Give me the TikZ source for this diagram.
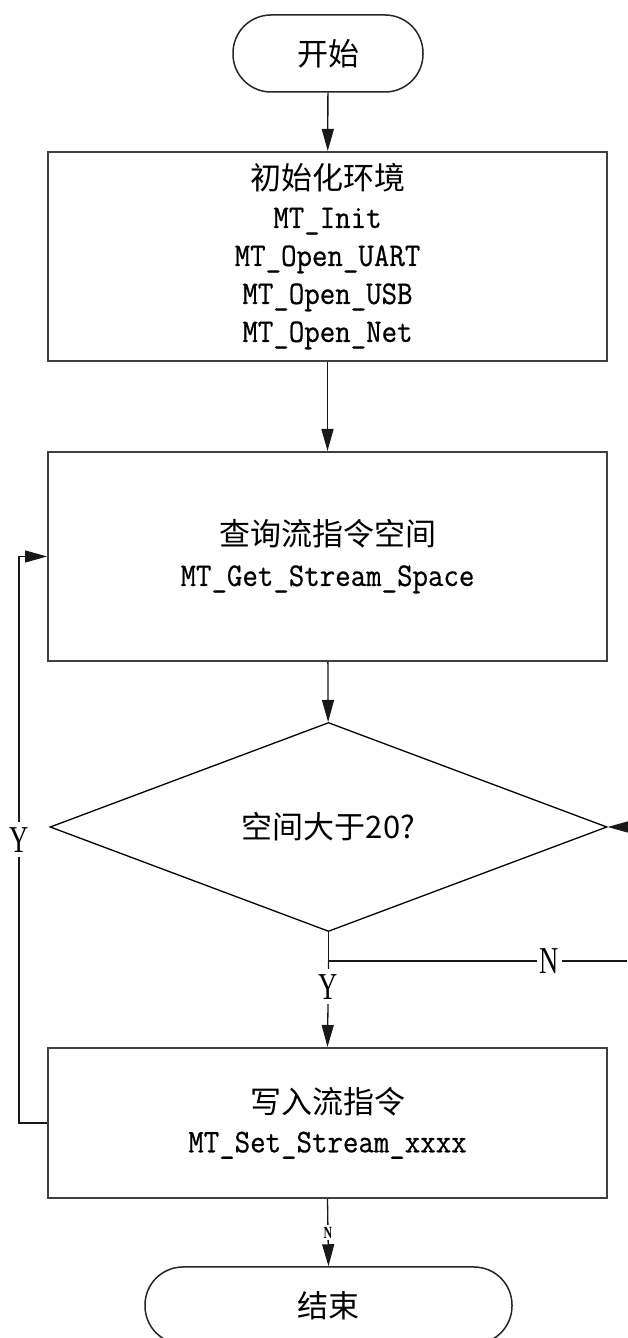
\documentclass[tikz,border=0pt]{standalone}
\usepackage{fontspec}
\usetikzlibrary{arrows.meta,shapes.geometric}
\newfontfamily\cjk{Noto Sans CJK SC}
\newfontfamily\monof[FakeStretch=0.91,FakeBold=0.6]{Latin Modern Mono}
\newfontfamily\lblf[FakeStretch=0.7]{Liberation Serif}
\newcommand\mt[1]{{\fontsize{33}{38}\selectfont\monof #1}}
\tikzset{
  x=1pt,y=1pt,
  box/.style={draw=black!75, line width=2pt, rectangle, minimum width=559pt, inner sep=0pt, align=center,
    font=\fontsize{31}{38}\selectfont\cjk},
  term/.style={draw=black!85, line width=1.5pt, rectangle, rounded corners=38pt, inner sep=0pt,
    font=\fontsize{31}{38}\selectfont\cjk},
  dec/.style={draw=black, line width=1.3pt, diamond, inner sep=0pt, aspect=2.67,
    minimum width=557pt, minimum height=209pt, font=\fontsize{31}{38}\selectfont\cjk},
  conn/.style={draw=black!90, line width=1.3pt},
  arr/.style={conn, -{Triangle[length=22pt,width=12pt]}},
  lbl/.style={fill=white, inner sep=5pt, font=\fontsize{38}{40}\selectfont\lblf},
  slbl/.style={fill=white, inner sep=2pt, font=\fontsize{17}{18}\selectfont\lblf\bfseries},
}
\begin{document}
\begin{tikzpicture}
\useasboundingbox (0,0) rectangle (627,1338);
\fill[white] (0,0) rectangle (627,1338);
\node[term, minimum width=190pt, minimum height=77pt] (start) at (328,1284.5) {开始};
\node[box, minimum height=209pt] (init) at (327.5,1081.5)
  {初始化环境\\ \mt{MT\_Init}\\ \mt{MT\_Open\_UART}\\ \mt{MT\_Open\_USB}\\ \mt{MT\_Open\_Net}};
\node[box, minimum height=209pt] (query) at (327.5,781.5)
  {查询流指令空间\\[2pt] \mt{MT\_Get\_Stream\_Space}};
\node[dec] (check) at (328.5,511) {空间大于20?};
\node[box, minimum height=150pt] (write) at (327.5,215)
  {写入流指令\\[1pt] \mt{MT\_Set\_Stream\_xxxx}};
\node[term, minimum width=367pt, minimum height=77pt] (stop) at (328.5,32.5) {结束};
\coordinate (rin) at (627,511);
\coordinate (nout) at (627,377);
\coordinate (split) at (328.5,377);
\draw[arr] (start) -- (init);
\draw[arr] (init) -- (query);
\draw[arr] (query) -- (check);
\draw[arr] (rin) -- (check.east);
\draw[conn] (check.south) -- (split) -- node[pos=0.74, lbl, inner sep=3pt]{N} (nout);
\draw[arr] (split) -- node[pos=0.3, lbl]{Y} (write.north);
\draw[arr] (write.west) -- ++(-28,0) |- node[pos=0.25, lbl]{Y} (query.west);
\draw[arr] (write.south) -- node[pos=0.5, slbl]{N} (stop.north);
\end{tikzpicture}
\end{document}
